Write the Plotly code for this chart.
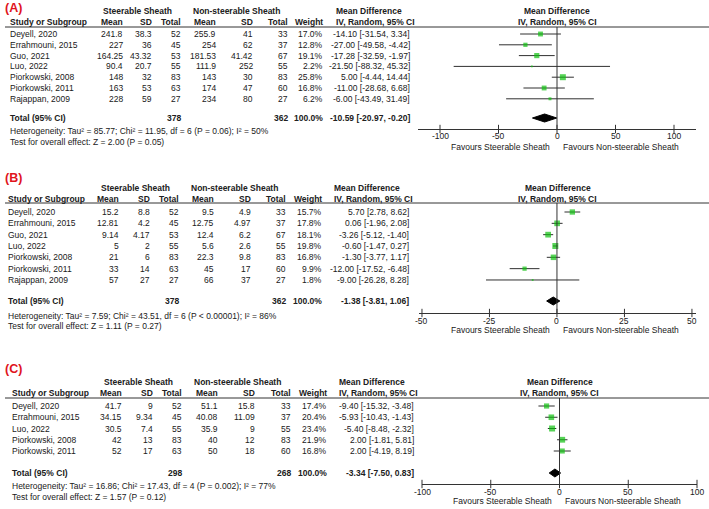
import plotly.graph_objects as go

W, H = 709, 509
TXT = "#202020"
GREEN = "#10c010"
FONT = "Liberation Sans, Arial, sans-serif"
FS = 8.5

# ---------------- DATA ----------------
# Panel A
A_studies = ["Deyell, 2020", "Errahmouni, 2015", "Guo, 2021", "Luo, 2022",
             "Piorkowski, 2008", "Piorkowski, 2011", "Rajappan, 2009"]
A_s_mean = [241.8, 227, 164.25, 90.4, 148, 163, 228]
A_s_sd = [38.3, 36, 43.32, 20.7, 32, 53, 59]
A_s_n = [52, 45, 53, 55, 83, 63, 27]
A_n_mean = [255.9, 254, 181.53, 111.9, 143, 174, 234]
A_n_sd = [41, 62, 41.42, 252, 30, 47, 80]
A_n_n = [33, 37, 67, 55, 83, 60, 27]
A_weight = [17.0, 12.8, 19.1, 2.2, 25.8, 16.8, 6.2]
A_md = [-14.10, -27.00, -17.28, -21.50, 5.00, -11.00, -6.00]
A_lo = [-31.54, -49.58, -32.59, -88.32, -4.44, -28.68, -43.49]
A_hi = [3.34, -4.42, -1.97, 45.32, 14.44, 6.68, 31.49]
A_total = [378, 362, 100.0, -10.59, -20.97, -0.20]
A_het = "Heterogeneity: Tau² = 85.77; Chi² = 11.95, df = 6 (P = 0.06); I² = 50%"
A_test = "Test for overall effect: Z = 2.00 (P = 0.05)"
A_ticks = [-100, -50, 0, 50, 100]
A_ticktext = ["-100", "-50", "0", "50", "100"]

# Panel B
B_studies = ["Deyell, 2020", "Errahmouni, 2015", "Guo, 2021", "Luo, 2022",
             "Piorkowski, 2008", "Piorkowski, 2011", "Rajappan, 2009"]
B_s_mean = [15.2, 12.81, 9.14, 5, 21, 33, 57]
B_s_sd = [8.8, 4.2, 4.17, 2, 6, 14, 27]
B_s_n = [52, 45, 53, 55, 83, 63, 27]
B_n_mean = [9.5, 12.75, 12.4, 5.6, 22.3, 45, 66]
B_n_sd = [4.9, 4.97, 6.2, 2.6, 9.8, 17, 37]
B_n_n = [33, 37, 67, 55, 83, 60, 27]
B_weight = [15.7, 17.8, 18.1, 19.8, 16.8, 9.9, 1.8]
B_md = [5.70, 0.06, -3.26, -0.60, -1.30, -12.00, -9.00]
B_lo = [2.78, -1.96, -5.12, -1.47, -3.77, -17.52, -26.28]
B_hi = [8.62, 2.08, -1.40, 0.27, 1.17, -6.48, 8.28]
B_total = [378, 362, 100.0, -1.38, -3.81, 1.06]
B_het = "Heterogeneity: Tau² = 7.59; Chi² = 43.51, df = 6 (P < 0.00001); I² = 86%"
B_test = "Test for overall effect: Z = 1.11 (P = 0.27)"
B_ticks = [-50, -25, 0, 25, 50]
B_ticktext = ["-50", "-25", "0", "25", "50"]

# Panel C
C_studies = ["Deyell, 2020", "Errahmouni, 2015", "Luo, 2022",
             "Piorkowski, 2008", "Piorkowski, 2011"]
C_s_mean = [41.7, 34.15, 30.5, 42, 52]
C_s_sd = [9, 9.34, 7.4, 13, 17]
C_s_n = [52, 45, 55, 83, 63]
C_n_mean = [51.1, 40.08, 35.9, 40, 50]
C_n_sd = [15.8, 11.09, 9, 12, 18]
C_n_n = [33, 37, 55, 83, 60]
C_weight = [17.4, 20.4, 23.4, 21.9, 16.8]
C_md = [-9.40, -5.93, -5.40, 2.00, 2.00]
C_lo = [-15.32, -10.43, -8.48, -1.81, -4.19]
C_hi = [-3.48, -1.43, -2.32, 5.81, 8.19]
C_total = [298, 268, 100.0, -3.34, -7.50, 0.83]
C_het = "Heterogeneity: Tau² = 16.86; Chi² = 17.43, df = 4 (P = 0.002); I² = 77%"
C_test = "Test for overall effect: Z = 1.57 (P = 0.12)"
C_ticks = [-100, -50, 0, 50, 100]
C_ticktext = ["-100", "-50", "0", "50", "100"]

panel_labels = ["(A)", "(B)", "(C)"]
hdr_group1 = "Steerable Sheath"
hdr_group2 = "Non-steerable Sheath"
hdr_cols = ["Mean", "SD", "Total", "Mean", "SD", "Total", "Weight"]
hdr_md1 = "Mean Difference"
hdr_md2 = "IV, Random, 95% CI"
fav_left = "Favours Steerable Sheath"
fav_right = "Favours Non-steerable Sheath"

# ---------------- LAYOUT (pixel positions) ----------------
layouts = [
    dict(lab=7.5, h1=11, h2=22, line=27, row0=34, step=10.8, tot=118, het=131, test=142,
         axis=129, tl=136.5, fav=147, study_x=9, cols=[124, 153, 182, 217, 254, 289, 324],
         g1=137, g2=236, mdh=335, mdr=411, fx=[418, 696], frange=[-118.8, 118.8],
         zero=557),
    dict(lab=177.5, h1=188, h2=199, line=203, row0=212, step=11.33, tot=301, het=316, test=326,
         axis=313, tl=320.5, fav=330, study_x=7, cols=[120, 151, 180, 215, 252, 287, 323],
         g1=135, g2=234, mdh=333, mdr=410, fx=[419, 696], frange=[-51.1, 51.5],
         zero=557),
    dict(lab=369, h1=382, h2=393, line=398, row0=406, step=11.25, tot=473, het=486, test=497,
         axis=484, tl=491.5, fav=501, study_x=11, cols=[123, 154, 183, 219, 256, 292, 328],
         g1=138, g2=238, mdh=338, mdr=415, fx=[422, 697], frange=[-100, 100],
         zero=559),
]

panels = [
    (A_studies, A_s_mean, A_s_sd, A_s_n, A_n_mean, A_n_sd, A_n_n, A_weight, A_md, A_lo, A_hi,
     A_total, A_het, A_test, A_ticks, A_ticktext),
    (B_studies, B_s_mean, B_s_sd, B_s_n, B_n_mean, B_n_sd, B_n_n, B_weight, B_md, B_lo, B_hi,
     B_total, B_het, B_test, B_ticks, B_ticktext),
    (C_studies, C_s_mean, C_s_sd, C_s_n, C_n_mean, C_n_sd, C_n_n, C_weight, C_md, C_lo, C_hi,
     C_total, C_het, C_test, C_ticks, C_ticktext),
]

annotations = []
shapes = []
fig = go.Figure()


def txt(x, y, s, anchor="left", bold=False, size=FS, color=TXT, xref="paper"):
    annotations.append(dict(
        x=x / W if xref == "paper" else x, y=1 - y / H, xref=xref, yref="paper",
        text=f"<b>{s}</b>" if bold else s, showarrow=False,
        xanchor=anchor, yanchor="middle", borderpad=0,
        font=dict(family=FONT, size=size, color=color)))


def fmt_ci(m, l, h):
    return f"{m:.2f} [{l:.2f}, {h:.2f}]"


axis_layout = {}
for p, (L, D) in enumerate(zip(layouts, panels)):
    (studies, s_mean, s_sd, s_n, n_mean, n_sd, n_n, weight, md, lo, hi,
     total, het, test, ticks, ticktext) = D
    sfx = "" if p == 0 else str(p + 1)
    xa = "x" + sfx
    ya = "y" + sfx

    # panel label
    txt(4, L["lab"], panel_labels[p], bold=True, size=12.5, color="#e0141c")
    # headers
    txt(L["g1"], L["h1"], hdr_group1, anchor="center", bold=True)
    txt(L["g2"], L["h1"], hdr_group2, anchor="center", bold=True)
    txt(L["mdh"], L["h1"], hdr_md1, bold=True)
    txt((L["fx"][0] + L["fx"][1]) / 2, L["h1"], hdr_md1, anchor="center", bold=True)
    txt(L["study_x"], L["h2"], "Study or Subgroup", bold=True)
    for cx, h in zip(L["cols"], hdr_cols):
        txt(cx, L["h2"], h, anchor="right", bold=True)
    txt(L["mdh"], L["h2"], hdr_md2, bold=True)
    txt((L["fx"][0] + L["fx"][1]) / 2, L["h2"], hdr_md2, anchor="center", bold=True)
    # header line
    shapes.append(dict(type="line", xref="paper", yref="paper",
                       x0=5 / W, x1=1, y0=1 - L["line"] / H, y1=1 - L["line"] / H,
                       line=dict(color="#333333", width=1)))

    rows_y = [L["row0"] + i * L["step"] for i in range(len(studies))]
    for i, y in enumerate(rows_y):
        txt(L["study_x"], y, studies[i])
        vals = [f"{s_mean[i]:g}", f"{s_sd[i]:g}", f"{s_n[i]}",
                f"{n_mean[i]:g}", f"{n_sd[i]:g}", f"{n_n[i]}", f"{weight[i]:.1f}%"]
        for cx, v in zip(L["cols"], vals):
            txt(cx, y, v, anchor="right")
        txt(L["mdr"], y, fmt_ci(md[i], lo[i], hi[i]), anchor="right")

    # total row
    ty = L["tot"]
    txt(L["study_x"], ty, "Total (95% CI)", bold=True)
    txt(L["cols"][2], ty, f"{total[0]}", anchor="right", bold=True)
    txt(L["cols"][5], ty, f"{total[1]}", anchor="right", bold=True)
    txt(L["cols"][6], ty, f"{total[2]:.1f}%", anchor="right", bold=True)
    txt(L["mdr"], ty, fmt_ci(total[3], total[4], total[5]), anchor="right", bold=True)
    txt(L["study_x"], L["het"], het)
    txt(L["study_x"], L["test"], test)

    # favours labels
    txt(L["zero"] - 6, L["fav"], fav_left, anchor="right")
    txt(L["zero"] + 5, L["fav"], fav_right, anchor="left")

    # tick labels (placed on the data axis)
    for tv, tt in zip(ticks, ticktext):
        txt(tv, L["tl"], tt, anchor="center", xref=xa)

    # CI lines
    cx, cy = [], []
    for i, y in enumerate(rows_y):
        cx += [lo[i], hi[i], None]
        cy += [y, y, None]
    fig.add_trace(go.Scatter(x=cx, y=cy, mode="lines", xaxis=xa, yaxis=ya,
                             line=dict(color="#303030", width=1), hoverinfo="skip",
                             showlegend=False))
    # squares
    wmax = max(weight)
    sizes = [6.0 * (w / wmax) ** 0.5 for w in weight]
    fig.add_trace(go.Scatter(x=md, y=rows_y, mode="markers", xaxis=xa, yaxis=ya,
                             marker=dict(symbol="square", size=sizes, color=GREEN,
                                         line=dict(width=0)),
                             showlegend=False))
    # diamond
    dh = 4
    fig.add_trace(go.Scatter(x=[total[4], total[3], total[5], total[3], total[4]],
                             y=[ty, ty - dh, ty, ty + dh, ty],
                             mode="lines", fill="toself", fillcolor="black",
                             line=dict(color="black", width=1), xaxis=xa, yaxis=ya,
                             showlegend=False))
    # tick marks crossing the axis line
    fig.add_trace(go.Scatter(x=ticks, y=[L["axis"]] * len(ticks), mode="markers",
                             xaxis=xa, yaxis=ya, cliponaxis=False, hoverinfo="skip",
                             marker=dict(symbol="line-ns", size=6,
                                         line=dict(color="#333333", width=1)),
                             showlegend=False))
    # zero line
    shapes.append(dict(type="line", xref=xa, yref=ya, x0=0, x1=0,
                       y0=L["line"], y1=L["axis"], line=dict(color="#333333", width=1)))

    axis_layout["xaxis" + sfx] = dict(
        domain=[L["fx"][0] / W, L["fx"][1] / W], range=L["frange"], anchor=ya,
        showline=True, linecolor="#333333", linewidth=1, ticks="",
        showticklabels=False, showgrid=False, zeroline=False, fixedrange=True)
    axis_layout["yaxis" + sfx] = dict(
        domain=[1 - L["axis"] / H, 1 - L["line"] / H], range=[L["axis"], L["line"]],
        anchor=xa, visible=False, fixedrange=True)

fig.update_layout(
    width=W, height=H, margin=dict(l=0, r=0, t=0, b=0),
    paper_bgcolor="white", plot_bgcolor="white",
    annotations=annotations, shapes=shapes, showlegend=False,
    **axis_layout)

fig.write_html("out.html", config={"displayModeBar": False},
               post_script="document.body.style.margin='0';")
